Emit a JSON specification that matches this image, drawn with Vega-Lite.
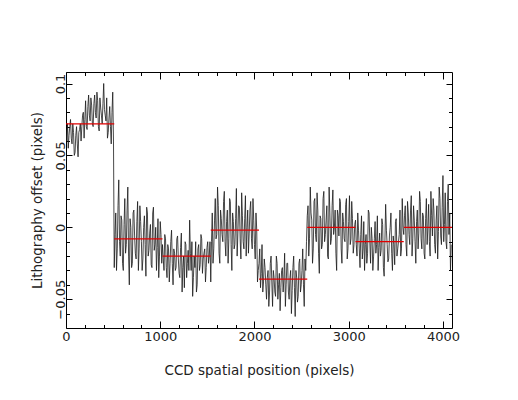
{
  "$schema": "https://vega.github.io/schema/vega-lite/v6.json",
  "width": 386,
  "height": 256,
  "autosize": "none",
  "padding": {"left": 66, "top": 72, "right": 66, "bottom": 72},
  "background": "white",
  "config": {
    "view": {"stroke": "#000", "strokeWidth": 1},
    "axis": {"domain": false, "grid": false, "tickColor": "#000", "tickWidth": 1, "labelFont": "DejaVu Sans", "labelFontSize": 13, "labelColor": "#222", "titleFont": "DejaVu Sans", "titleFontSize": 13.5, "titleFontWeight": "normal", "titleColor": "#222"}
  },
  "datasets": {
    "pts": [
      {"x":0,"y":0.068},{"x":8,"y":0.06},{"x":16,"y":0.072},{"x":24,"y":0.055},{"x":32,"y":0.064},{"x":40,"y":0.07},{"x":48,"y":0.075},{"x":56,"y":0.062},{"x":64,"y":0.058},{"x":72,"y":0.072},{"x":80,"y":0.066},{"x":88,"y":0.05},{"x":96,"y":0.052},{"x":104,"y":0.064},{"x":112,"y":0.07},{"x":120,"y":0.058},{"x":128,"y":0.049},{"x":136,"y":0.066},{"x":144,"y":0.068},{"x":152,"y":0.072},{"x":160,"y":0.06},{"x":168,"y":0.07},{"x":176,"y":0.078},{"x":184,"y":0.08},{"x":192,"y":0.062},{"x":200,"y":0.075},{"x":208,"y":0.088},{"x":216,"y":0.07},{"x":224,"y":0.068},{"x":232,"y":0.084},{"x":240,"y":0.092},{"x":248,"y":0.078},{"x":256,"y":0.074},{"x":264,"y":0.09},{"x":272,"y":0.085},{"x":280,"y":0.072},{"x":288,"y":0.07},{"x":296,"y":0.086},{"x":304,"y":0.092},{"x":312,"y":0.08},{"x":320,"y":0.076},{"x":328,"y":0.094},{"x":336,"y":0.088},{"x":344,"y":0.07},{"x":352,"y":0.067},{"x":360,"y":0.09},{"x":368,"y":0.083},{"x":376,"y":0.078},{"x":384,"y":0.072},{"x":392,"y":0.086},{"x":400,"y":0.1},{"x":408,"y":0.082},{"x":416,"y":0.078},{"x":424,"y":0.074},{"x":432,"y":0.09},{"x":440,"y":0.062},{"x":448,"y":0.066},{"x":456,"y":0.076},{"x":464,"y":0.084},{"x":472,"y":0.07},{"x":480,"y":0.058},{"x":488,"y":0.08},{"x":496,"y":0.094},{"x":504,"y":0.06},
      {"x":512,"y":-0.028},{"x":520,"y":-0.005},{"x":528,"y":0.01},{"x":536,"y":-0.03},{"x":544,"y":-0.015},{"x":552,"y":0.015},{"x":560,"y":0.033},{"x":568,"y":-0.01},{"x":576,"y":-0.02},{"x":584,"y":0.008},{"x":592,"y":0.005},{"x":600,"y":-0.025},{"x":608,"y":-0.03},{"x":616,"y":0.002},{"x":624,"y":0.02},{"x":632,"y":-0.018},{"x":640,"y":-0.012},{"x":648,"y":0.012},{"x":656,"y":0.028},{"x":664,"y":-0.02},{"x":672,"y":-0.04},{"x":680,"y":0.006},{"x":688,"y":0.0},{"x":696,"y":-0.028},{"x":704,"y":-0.025},{"x":712,"y":0.01},{"x":720,"y":0.012},{"x":728,"y":-0.006},{"x":736,"y":-0.018},{"x":744,"y":-0.022},{"x":752,"y":0.004},{"x":760,"y":0.018},{"x":768,"y":-0.03},{"x":776,"y":-0.015},{"x":784,"y":0.015},{"x":792,"y":0.004},{"x":800,"y":-0.01},{"x":808,"y":-0.03},{"x":816,"y":-0.022},{"x":824,"y":0.0},{"x":832,"y":0.008},{"x":840,"y":-0.012},{"x":848,"y":-0.034},{"x":856,"y":0.014},{"x":864,"y":0.01},{"x":872,"y":-0.02},{"x":880,"y":-0.016},{"x":888,"y":-0.004},{"x":896,"y":0.002},{"x":904,"y":-0.026},{"x":912,"y":-0.028},{"x":920,"y":0.01},{"x":928,"y":0.014},{"x":936,"y":-0.016},{"x":944,"y":-0.012},{"x":952,"y":0.0},{"x":960,"y":-0.03},{"x":968,"y":-0.014},{"x":976,"y":0.006},{"x":984,"y":-0.035},{"x":992,"y":-0.02},{"x":1000,"y":0.004},{"x":1008,"y":-0.005},{"x":1016,"y":-0.025},
      {"x":1024,"y":-0.012},{"x":1032,"y":-0.022},{"x":1040,"y":-0.03},{"x":1048,"y":-0.005},{"x":1056,"y":-0.008},{"x":1064,"y":-0.028},{"x":1072,"y":-0.035},{"x":1080,"y":-0.012},{"x":1088,"y":-0.015},{"x":1096,"y":-0.038},{"x":1104,"y":-0.025},{"x":1112,"y":-0.01},{"x":1120,"y":-0.002},{"x":1128,"y":-0.025},{"x":1136,"y":-0.04},{"x":1144,"y":-0.015},{"x":1152,"y":-0.018},{"x":1160,"y":-0.03},{"x":1168,"y":-0.028},{"x":1176,"y":-0.008},{"x":1184,"y":-0.006},{"x":1192,"y":-0.022},{"x":1200,"y":-0.032},{"x":1208,"y":-0.035},{"x":1216,"y":-0.014},{"x":1224,"y":-0.004},{"x":1232,"y":-0.045},{"x":1240,"y":-0.028},{"x":1248,"y":-0.02},{"x":1256,"y":-0.042},{"x":1264,"y":-0.01},{"x":1272,"y":-0.012},{"x":1280,"y":-0.035},{"x":1288,"y":-0.025},{"x":1296,"y":-0.016},{"x":1304,"y":-0.03},{"x":1312,"y":0.005},{"x":1320,"y":-0.018},{"x":1328,"y":-0.03},{"x":1336,"y":-0.01},{"x":1344,"y":-0.048},{"x":1352,"y":-0.035},{"x":1360,"y":-0.02},{"x":1368,"y":-0.028},{"x":1376,"y":-0.01},{"x":1384,"y":-0.045},{"x":1392,"y":-0.04},{"x":1400,"y":-0.015},{"x":1408,"y":-0.012},{"x":1416,"y":-0.03},{"x":1424,"y":-0.026},{"x":1432,"y":-0.005},{"x":1440,"y":-0.008},{"x":1448,"y":-0.032},{"x":1456,"y":-0.022},{"x":1464,"y":-0.018},{"x":1472,"y":-0.015},{"x":1480,"y":-0.038},{"x":1488,"y":-0.028},{"x":1496,"y":-0.014},{"x":1504,"y":-0.01},{"x":1512,"y":-0.025},{"x":1520,"y":-0.02},{"x":1528,"y":-0.01},
      {"x":1536,"y":-0.038},{"x":1544,"y":-0.01},{"x":1552,"y":0.01},{"x":1560,"y":-0.025},{"x":1568,"y":-0.015},{"x":1576,"y":0.005},{"x":1584,"y":0.02},{"x":1592,"y":-0.008},{"x":1600,"y":-0.005},{"x":1608,"y":0.028},{"x":1616,"y":0.015},{"x":1624,"y":-0.018},{"x":1632,"y":-0.025},{"x":1640,"y":0.012},{"x":1648,"y":0.006},{"x":1656,"y":-0.005},{"x":1664,"y":-0.01},{"x":1672,"y":0.018},{"x":1680,"y":0.025},{"x":1688,"y":-0.01},{"x":1696,"y":-0.02},{"x":1704,"y":0.004},{"x":1712,"y":0.012},{"x":1720,"y":-0.025},{"x":1728,"y":-0.008},{"x":1736,"y":0.02},{"x":1744,"y":0.018},{"x":1752,"y":-0.012},{"x":1760,"y":-0.03},{"x":1768,"y":0.01},{"x":1776,"y":0.004},{"x":1784,"y":-0.015},{"x":1792,"y":-0.012},{"x":1800,"y":0.006},{"x":1808,"y":0.027},{"x":1816,"y":-0.02},{"x":1824,"y":-0.004},{"x":1832,"y":0.015},{"x":1840,"y":0.014},{"x":1848,"y":-0.008},{"x":1856,"y":-0.022},{"x":1864,"y":0.024},{"x":1872,"y":0.008},{"x":1880,"y":-0.01},{"x":1888,"y":-0.015},{"x":1896,"y":0.006},{"x":1904,"y":0.022},{"x":1912,"y":-0.02},{"x":1920,"y":0.0},{"x":1928,"y":0.012},{"x":1936,"y":-0.018},{"x":1944,"y":-0.004},{"x":1952,"y":0.012},{"x":1960,"y":0.018},{"x":1968,"y":-0.008},{"x":1976,"y":-0.015},{"x":1984,"y":0.02},{"x":1992,"y":0.005},{"x":2000,"y":-0.012},{"x":2008,"y":-0.022},{"x":2016,"y":0.01},{"x":2024,"y":-0.002},{"x":2032,"y":-0.038},{"x":2040,"y":-0.03},
      {"x":2048,"y":-0.025},{"x":2056,"y":-0.015},{"x":2064,"y":-0.042},{"x":2072,"y":-0.032},{"x":2080,"y":-0.012},{"x":2088,"y":-0.045},{"x":2096,"y":-0.038},{"x":2104,"y":-0.022},{"x":2112,"y":-0.028},{"x":2120,"y":-0.04},{"x":2128,"y":-0.05},{"x":2136,"y":-0.035},{"x":2144,"y":-0.03},{"x":2152,"y":-0.055},{"x":2160,"y":-0.045},{"x":2168,"y":-0.025},{"x":2176,"y":-0.02},{"x":2184,"y":-0.038},{"x":2192,"y":-0.055},{"x":2200,"y":-0.03},{"x":2208,"y":-0.035},{"x":2216,"y":-0.045},{"x":2224,"y":-0.048},{"x":2232,"y":-0.02},{"x":2240,"y":-0.025},{"x":2248,"y":-0.05},{"x":2256,"y":-0.04},{"x":2264,"y":-0.032},{"x":2272,"y":-0.058},{"x":2280,"y":-0.042},{"x":2288,"y":-0.03},{"x":2296,"y":-0.028},{"x":2304,"y":-0.045},{"x":2312,"y":-0.036},{"x":2320,"y":-0.018},{"x":2328,"y":-0.055},{"x":2336,"y":-0.04},{"x":2344,"y":-0.025},{"x":2352,"y":-0.025},{"x":2360,"y":-0.045},{"x":2368,"y":-0.05},{"x":2376,"y":-0.035},{"x":2384,"y":-0.03},{"x":2392,"y":-0.06},{"x":2400,"y":-0.044},{"x":2408,"y":-0.028},{"x":2416,"y":-0.02},{"x":2424,"y":-0.042},{"x":2432,"y":-0.062},{"x":2440,"y":-0.03},{"x":2448,"y":-0.035},{"x":2456,"y":-0.052},{"x":2464,"y":-0.048},{"x":2472,"y":-0.025},{"x":2480,"y":-0.022},{"x":2488,"y":-0.045},{"x":2496,"y":-0.04},{"x":2504,"y":-0.03},{"x":2512,"y":-0.015},{"x":2520,"y":-0.04},{"x":2528,"y":-0.055},{"x":2536,"y":-0.022},{"x":2544,"y":-0.03},{"x":2552,"y":-0.01},
      {"x":2560,"y":0.008},{"x":2568,"y":0.015},{"x":2576,"y":-0.02},{"x":2584,"y":-0.008},{"x":2592,"y":0.028},{"x":2600,"y":0.01},{"x":2608,"y":0.005},{"x":2616,"y":-0.025},{"x":2624,"y":-0.015},{"x":2632,"y":0.018},{"x":2640,"y":0.02},{"x":2648,"y":-0.005},{"x":2656,"y":-0.01},{"x":2664,"y":0.024},{"x":2672,"y":0.012},{"x":2680,"y":-0.018},{"x":2688,"y":-0.032},{"x":2696,"y":0.008},{"x":2704,"y":0.006},{"x":2712,"y":-0.015},{"x":2720,"y":-0.012},{"x":2728,"y":0.02},{"x":2736,"y":0.025},{"x":2744,"y":-0.01},{"x":2752,"y":-0.005},{"x":2760,"y":0.005},{"x":2768,"y":0.015},{"x":2776,"y":-0.02},{"x":2784,"y":-0.022},{"x":2792,"y":0.028},{"x":2800,"y":0.01},{"x":2808,"y":-0.012},{"x":2816,"y":-0.008},{"x":2824,"y":0.015},{"x":2832,"y":0.026},{"x":2840,"y":-0.005},{"x":2848,"y":0.0},{"x":2856,"y":0.012},{"x":2864,"y":-0.018},{"x":2872,"y":-0.03},{"x":2880,"y":0.012},{"x":2888,"y":0.008},{"x":2896,"y":-0.006},{"x":2904,"y":0.02},{"x":2912,"y":0.018},{"x":2920,"y":-0.015},{"x":2928,"y":-0.025},{"x":2936,"y":0.01},{"x":2944,"y":0.004},{"x":2952,"y":-0.008},{"x":2960,"y":-0.01},{"x":2968,"y":0.016},{"x":2976,"y":0.02},{"x":2984,"y":-0.022},{"x":2992,"y":-0.015},{"x":3000,"y":0.004},{"x":3008,"y":0.022},{"x":3016,"y":-0.012},{"x":3024,"y":-0.008},{"x":3032,"y":0.018},{"x":3040,"y":0.006},{"x":3048,"y":-0.018},{"x":3056,"y":-0.012},{"x":3064,"y":0.002},
      {"x":3072,"y":0.005},{"x":3080,"y":-0.012},{"x":3088,"y":-0.02},{"x":3096,"y":0.01},{"x":3104,"y":-0.002},{"x":3112,"y":-0.015},{"x":3120,"y":-0.028},{"x":3128,"y":-0.005},{"x":3136,"y":0.008},{"x":3144,"y":-0.022},{"x":3152,"y":-0.015},{"x":3160,"y":0.004},{"x":3168,"y":-0.03},{"x":3176,"y":-0.012},{"x":3184,"y":-0.005},{"x":3192,"y":-0.025},{"x":3200,"y":-0.018},{"x":3208,"y":0.012},{"x":3216,"y":0.01},{"x":3224,"y":-0.01},{"x":3232,"y":-0.025},{"x":3240,"y":0.0},{"x":3248,"y":-0.008},{"x":3256,"y":-0.03},{"x":3264,"y":-0.02},{"x":3272,"y":-0.008},{"x":3280,"y":0.004},{"x":3288,"y":-0.018},{"x":3296,"y":-0.012},{"x":3304,"y":0.008},{"x":3312,"y":-0.03},{"x":3320,"y":-0.014},{"x":3328,"y":-0.004},{"x":3336,"y":-0.02},{"x":3344,"y":-0.016},{"x":3352,"y":0.006},{"x":3360,"y":0.002},{"x":3368,"y":-0.028},{"x":3376,"y":-0.034},{"x":3384,"y":-0.01},{"x":3392,"y":0.016},{"x":3400,"y":-0.002},{"x":3408,"y":-0.012},{"x":3416,"y":-0.024},{"x":3424,"y":-0.022},{"x":3432,"y":-0.006},{"x":3440,"y":0.0},{"x":3448,"y":0.01},{"x":3456,"y":-0.018},{"x":3464,"y":-0.03},{"x":3472,"y":-0.006},{"x":3480,"y":-0.012},{"x":3488,"y":-0.026},{"x":3496,"y":0.004},{"x":3504,"y":0.006},{"x":3512,"y":-0.02},{"x":3520,"y":-0.015},{"x":3528,"y":-0.01},{"x":3536,"y":-0.005},{"x":3544,"y":0.012},{"x":3552,"y":-0.02},{"x":3560,"y":-0.015},{"x":3568,"y":0.02},{"x":3576,"y":0.0},
      {"x":3584,"y":-0.005},{"x":3592,"y":0.008},{"x":3600,"y":0.015},{"x":3608,"y":-0.012},{"x":3616,"y":-0.02},{"x":3624,"y":0.018},{"x":3632,"y":0.01},{"x":3640,"y":-0.005},{"x":3648,"y":-0.012},{"x":3656,"y":0.012},{"x":3664,"y":0.022},{"x":3672,"y":-0.02},{"x":3680,"y":-0.008},{"x":3688,"y":0.015},{"x":3696,"y":0.005},{"x":3704,"y":-0.01},{"x":3712,"y":-0.025},{"x":3720,"y":0.004},{"x":3728,"y":0.012},{"x":3736,"y":-0.015},{"x":3744,"y":-0.004},{"x":3752,"y":0.025},{"x":3760,"y":0.018},{"x":3768,"y":-0.008},{"x":3776,"y":-0.015},{"x":3784,"y":0.01},{"x":3792,"y":0.008},{"x":3800,"y":-0.018},{"x":3808,"y":-0.022},{"x":3816,"y":0.006},{"x":3824,"y":0.02},{"x":3832,"y":-0.012},{"x":3840,"y":0.0},{"x":3848,"y":0.016},{"x":3856,"y":-0.01},{"x":3864,"y":-0.02},{"x":3872,"y":0.025},{"x":3880,"y":0.008},{"x":3888,"y":-0.006},{"x":3896,"y":0.02},{"x":3904,"y":0.012},{"x":3912,"y":-0.012},{"x":3920,"y":-0.018},{"x":3928,"y":0.005},{"x":3936,"y":0.015},{"x":3944,"y":-0.022},{"x":3952,"y":-0.003},{"x":3960,"y":0.028},{"x":3968,"y":0.02},{"x":3976,"y":-0.006},{"x":3984,"y":-0.012},{"x":3992,"y":0.014},{"x":4000,"y":0.036},{"x":4008,"y":-0.01},{"x":4016,"y":0.002},{"x":4024,"y":0.024},{"x":4032,"y":-0.01},{"x":4040,"y":-0.015},{"x":4048,"y":0.018},{"x":4056,"y":0.03},{"x":4064,"y":-0.005},{"x":4072,"y":0.01},{"x":4080,"y":-0.03},{"x":4088,"y":-0.012}
    ],
    "segs": [
      {"x":0,"x2":512,"y":0.072},
      {"x":512,"x2":1024,"y":-0.008},
      {"x":1024,"x2":1536,"y":-0.02},
      {"x":1536,"x2":2048,"y":-0.002},
      {"x":2048,"x2":2560,"y":-0.036},
      {"x":2560,"x2":3072,"y":0.0},
      {"x":3072,"x2":3584,"y":-0.01},
      {"x":3584,"x2":4096,"y":0.0}
    ]
  },
  "resolve": {"axis": {"x": "independent", "y": "independent"}},
  "layer": [
    {
      "data": {"name": "pts"},
      "mark": {"type": "line", "color": "#1a1a1a", "strokeWidth": 0.8, "clip": true},
      "encoding": {
        "x": {"field": "x", "type": "quantitative", "scale": {"domain": [0, 4096], "nice": false, "zero": false},
          "axis": {"orient": "bottom", "title": "CCD spatial position (pixels)", "values": [0,200,400,600,800,1000,1200,1400,1600,1800,2000,2200,2400,2600,2800,3000,3200,3400,3600,3800,4000],
            "tickSize": {"condition": {"test": "datum.value % 1000 === 0", "value": -7}, "value": -3.5},
            "labelExpr": "datum.value % 1000 === 0 ? datum.label : ''", "format": "d", "labelPadding": 9, "titlePadding": 20, "labelFlush": false}},
        "y": {"field": "y", "type": "quantitative", "scale": {"domain": [-0.07, 0.108], "nice": false, "zero": false},
          "axis": {"orient": "left", "title": "Lithography offset (pixels)", "values": [-0.06,-0.05,-0.04,-0.03,-0.02,-0.01,0,0.01,0.02,0.03,0.04,0.05,0.06,0.07,0.08,0.09,0.1],
            "tickSize": {"condition": {"test": "abs(round(datum.value*100)) % 5 === 0", "value": -6}, "value": -3.5},
            "labelExpr": "abs(round(datum.value*100)) % 5 === 0 ? datum.label : ''", "format": "~g", "labelAngle": -90, "labelAlign": "center", "labelBaseline": "bottom", "labelPadding": 5, "titlePadding": 10, "labelFlush": false}}
      }
    },
    {
      "data": {"name": "segs"},
      "mark": {"type": "rule", "color": "#e00000", "strokeWidth": 1.3},
      "encoding": {
        "x": {"field": "x", "type": "quantitative",
          "axis": {"orient": "top", "title": null, "labels": false, "values": [0,200,400,600,800,1000,1200,1400,1600,1800,2000,2200,2400,2600,2800,3000,3200,3400,3600,3800,4000],
            "tickSize": {"condition": {"test": "datum.value % 1000 === 0", "value": -7}, "value": -3.5}}},
        "x2": {"field": "x2"},
        "y": {"field": "y", "type": "quantitative",
          "axis": {"orient": "right", "title": null, "labels": false, "values": [-0.06,-0.05,-0.04,-0.03,-0.02,-0.01,0,0.01,0.02,0.03,0.04,0.05,0.06,0.07,0.08,0.09,0.1],
            "tickSize": {"condition": {"test": "abs(round(datum.value*100)) % 5 === 0", "value": -6}, "value": -3.5}}}
      }
    }
  ]
}
